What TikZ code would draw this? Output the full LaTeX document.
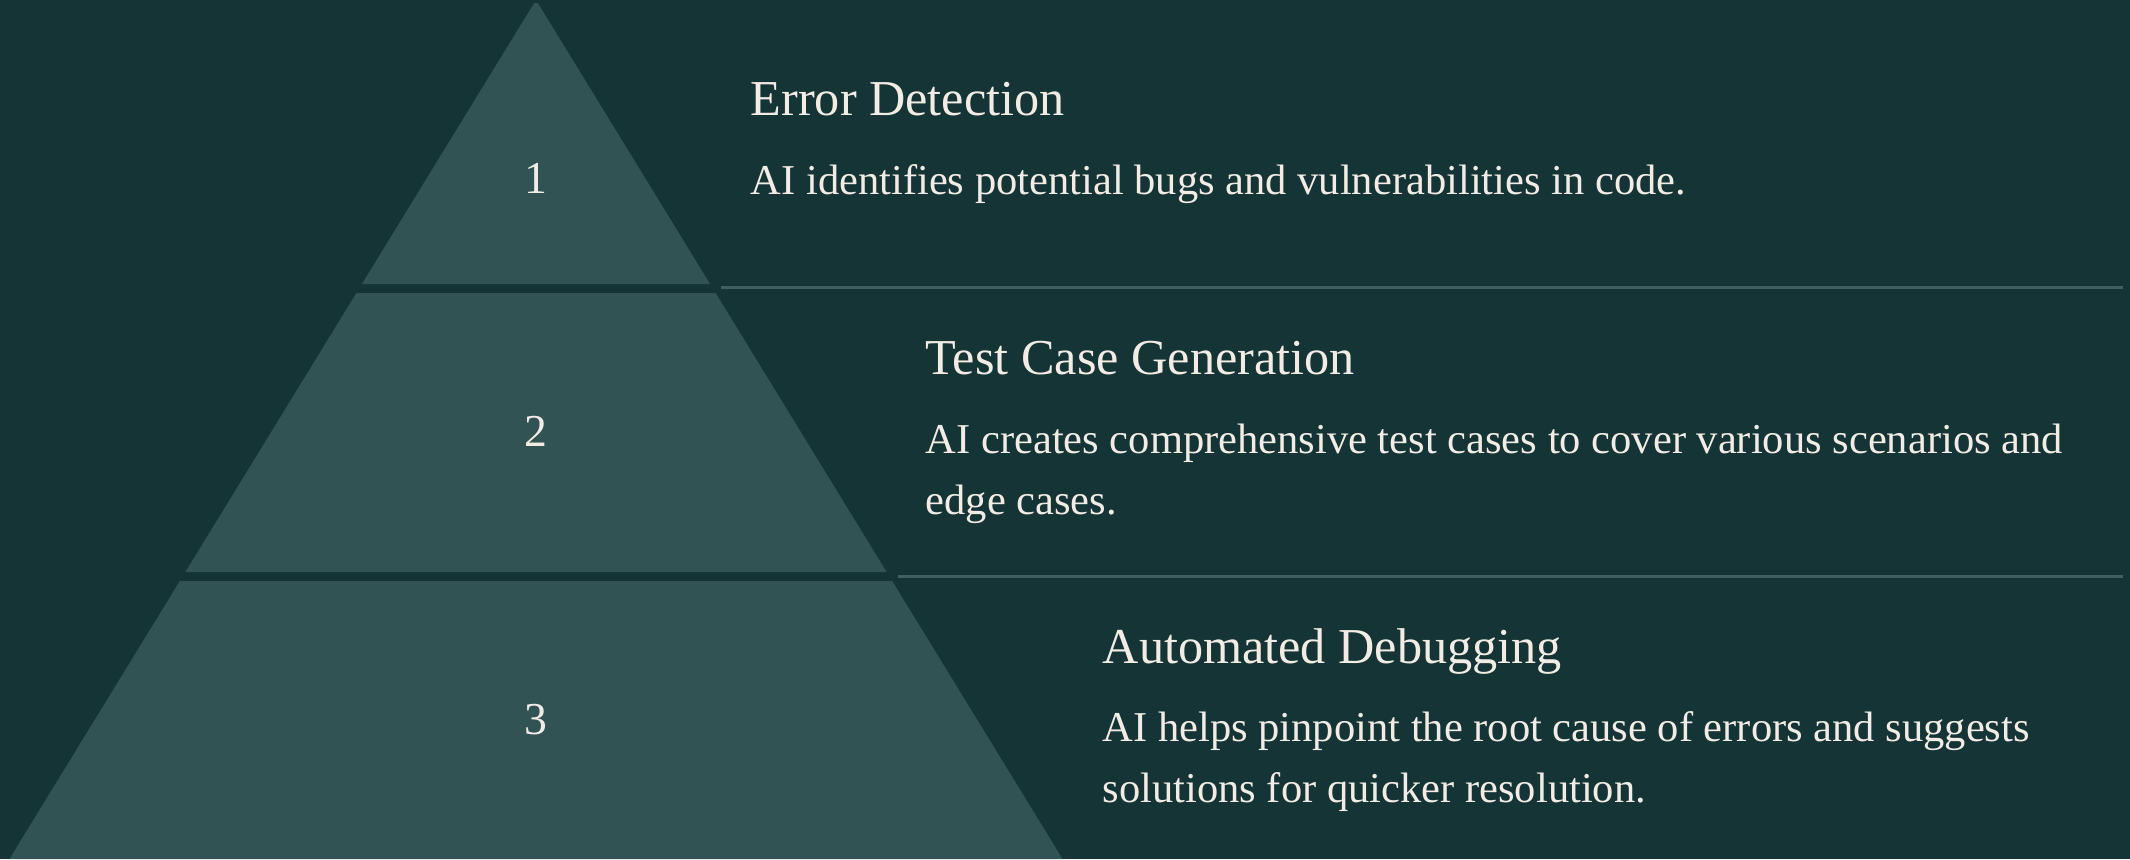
\documentclass[tikz,border=0pt]{standalone}
\usepackage{fontspec}
\setmainfont{Liberation Serif}

\definecolor{bgcol}{HTML}{143435}
\definecolor{tiercol}{HTML}{325353}
\definecolor{rulecol}{HTML}{3F605E}
\definecolor{txtcol}{HTML}{F2ECE4}

\begin{document}
\begin{tikzpicture}[x=1cm, y=-1cm,
  every node/.style={text=txtcol, inner sep=0pt},
  numlabel/.style={font=\fontsize{13}{15}\selectfont, anchor=base},
  steptitle/.style={font=\fontsize{14.3}{17}\selectfont, anchor=base west},
  stepdesc/.style={font=\fontsize{12.1}{17.4}\selectfont, anchor=base west, align=left},
  seprule/.style={draw=rulecol, line width=0.6pt}]

  \def\picw{21.30}
  \def\pich{8.59}
  \def\apexx{5.36}
  \def\slope{0.613}

  \fill[bgcol] (0,0) rectangle (\picw,\pich);
  \useasboundingbox (0,0) rectangle (\picw,\pich);

  % pyramid tiers
  \foreach \ya/\yb in {0.03/2.84, 2.93/5.72, 5.81/8.59} {
    \fill[tiercol] ({\apexx-\slope*\ya},\ya) -- ({\apexx+\slope*\ya},\ya)
      -- ({\apexx+\slope*\yb},\yb) -- ({\apexx-\slope*\yb},\yb) -- cycle;
  }

  \node[numlabel] (n1) at (\apexx,1.93) {1};
  \node[numlabel] (n2) at (\apexx,4.46) {2};
  \node[numlabel] (n3) at (\apexx,7.34) {3};

  % separators
  \coordinate (s1a) at (7.21,2.875);
  \coordinate (s1b) at (21.23,2.875);
  \coordinate (s2a) at (8.98,5.765);
  \coordinate (s2b) at (21.23,5.765);
  \draw[seprule] (s1a) -- (s1b);
  \draw[seprule] (s2a) -- (s2b);

  % base of a two-line text is its last line
  \node[steptitle] (t1) at (7.50,1.155) {Error Detection};
  \node[stepdesc] (d1) at (7.50,1.945) {AI identifies potential bugs and vulnerabilities in code.};

  \node[steptitle] (t2) at (9.25,3.745) {Test Case Generation};
  \node[stepdesc] (d2) at (9.25,5.145) {AI creates comprehensive test cases to cover various scenarios and\\edge cases.};

  \node[steptitle] (t3) at (11.02,6.635) {Automated Debugging};
  \node[stepdesc] (d3) at (11.02,8.025) {AI helps pinpoint the root cause of errors and suggests\\solutions for quicker resolution.};

\end{tikzpicture}
\end{document}
